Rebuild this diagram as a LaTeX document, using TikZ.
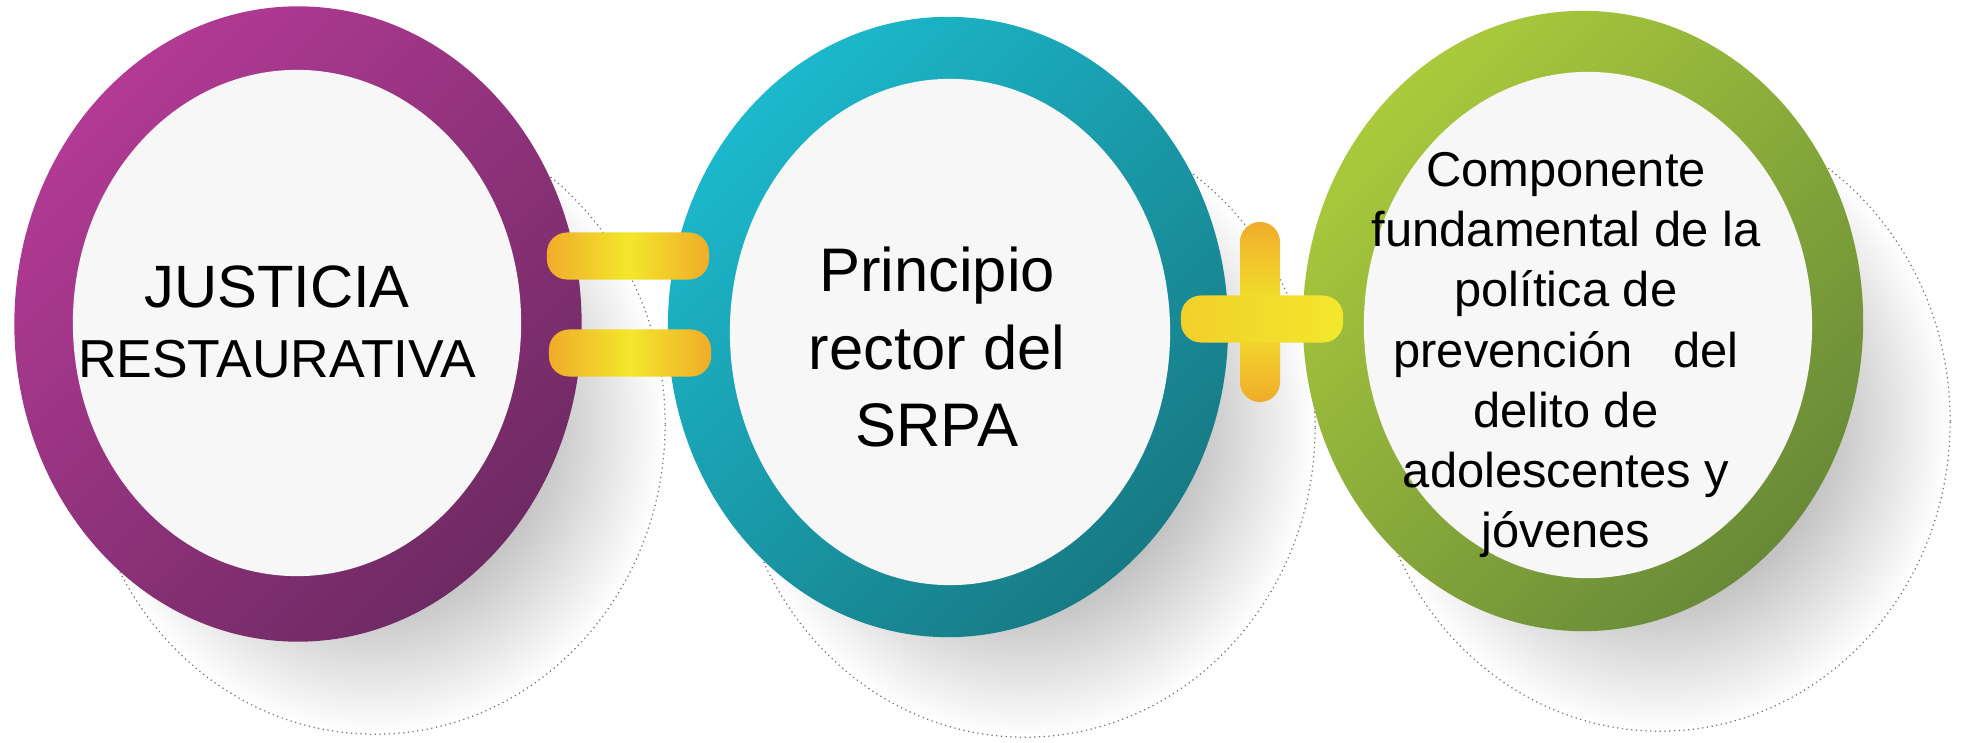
\documentclass[tikz,border=0pt]{standalone}
\usepackage{fontspec}
\setmainfont{Liberation Sans}
\usetikzlibrary{shapes.geometric}
\definecolor{purpleA}{HTML}{B23A94}
\definecolor{purpleB}{HTML}{6E2A63}
\definecolor{tealA}{HTML}{1CB8CC}
\definecolor{tealB}{HTML}{177A84}
\definecolor{greenA}{HTML}{AACA3C}
\definecolor{greenB}{HTML}{688A38}
\definecolor{barOrange}{HTML}{EFAC2A}
\definecolor{barYellow}{HTML}{F3E72C}
\begin{document}
\begin{tikzpicture}[x=0.01cm, y=-0.01cm,
  shd/.style={ellipse, minimum width=5.8cm, minimum height=6.2cm, inner color=black!55, outer color=white, draw=black!55, densely dotted, line width=0.35pt},
  ring/.style={ellipse, minimum width=5.6cm, minimum height=6.2cm},
  hole/.style={ellipse, fill=black!3, minimum width=4.48cm, minimum height=5.06cm},
  hbar/.style={rounded corners=0.2cm, minimum width=1.62cm, minimum height=0.47cm},
  vbar/.style={rounded corners=0.2cm, minimum width=0.4cm, minimum height=1.8cm},
  lbl/.style={align=center, inner sep=0pt}]
\useasboundingbox (0,0) rectangle (1963,742);
% shadows
\node[shd] (shd0) at (375,424){};
\node[shd] (shd1) at (1025,427){};
\node[shd] (shd2) at (1660,421){};
% rings
\node[ring, top color=purpleA, bottom color=purpleB, shading angle=45, minimum width=5.67cm, minimum height=6.35cm] (ring0) at (298,324){};
\node[ring, top color=tealA, bottom color=tealB, shading angle=45] (ring1) at (948,327){};
\node[ring, top color=greenA, bottom color=greenB, shading angle=45] (ring2) at (1583,321){};
\node[hole] (hole0) at (297,323){};
\node[hole, minimum width=4.4cm] (hole1) at (950,332){};
\node[hole] (hole2) at (1588,325){};
% signs
\node[hbar, left color=barOrange, right color=barOrange, middle color=barYellow] (eq0) at (628,256){};
\node[hbar, left color=barOrange, right color=barOrange, middle color=barYellow] (eq1) at (630,353){};
\node[vbar, top color=barOrange, bottom color=barOrange, middle color=barYellow] (plus0) at (1260,312){};
\node[hbar, left color=barYellow!60!barOrange, right color=barYellow] (plus1) at (1262,319){};
% texts
\node[lbl] (lbl0) at (277,322){\fontsize{17}{22}\selectfont JUSTICIA\\[8pt]\fontsize{15.2}{18}\selectfont RESTAURATIVA};
\node[lbl, font=\fontsize{17.5}{22}\selectfont] (lbl1) at (937,347){Principio\\rector del\\SRPA};
\node[lbl, font=\fontsize{13.9}{17.1}\selectfont] (lbl2) at (1566,355){Componente\\fundamental de la\\política de\\prevención \ \ del\\delito de\\adolescentes y\\jóvenes};
\end{tikzpicture}
\end{document}
